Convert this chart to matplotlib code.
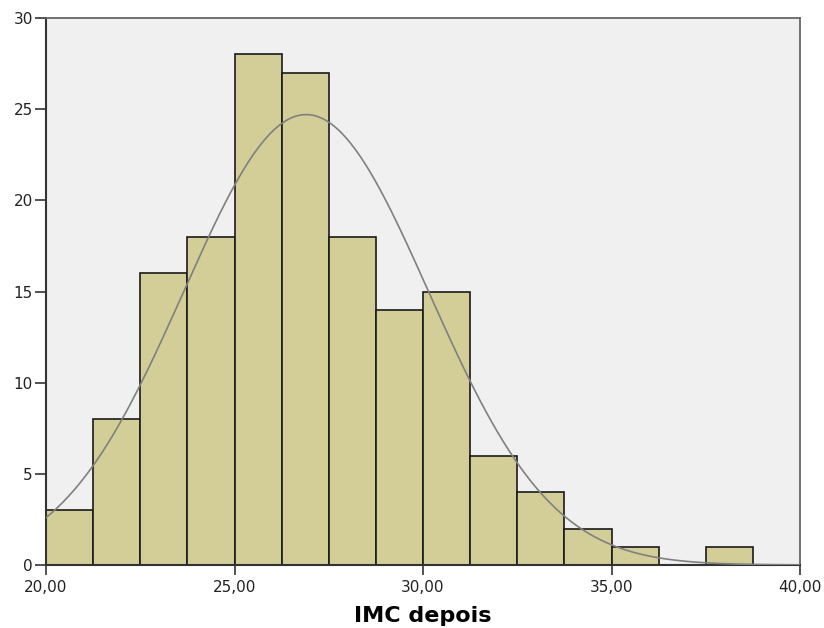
import numpy as np
import matplotlib
matplotlib.use("Agg")
import matplotlib.pyplot as plt

# histogram bins (IMC depois), width 1.25 starting at 20
bin_edges = [20.0, 21.25, 22.5, 23.75, 25.0, 26.25, 27.5, 28.75, 30.0,
             31.25, 32.5, 33.75, 35.0, 36.25, 37.5, 38.75]
counts = [3, 8, 16, 18, 28, 27, 18, 14, 15, 6, 4, 2, 1, 0, 1]

# normal curve parameters
mean_imc = 26.9
sd_imc = 3.25

x_ticks = [20, 25, 30, 35, 40]
x_labels = ["20,00", "25,00", "30,00", "35,00", "40,00"]
y_ticks = [0, 5, 10, 15, 20, 25, 30]

plt.rcParams['font.family'] = ['DejaVu Sans']

fig = plt.figure(figsize=(8.24, 6.28), dpi=100)
ax = fig.add_axes([46 / 824, 1 - 565 / 628, 754 / 824, 547 / 628])
ax.set_facecolor("#F0F0F0")

lefts = np.array(bin_edges[:-1])
widths = np.diff(bin_edges)
mask = np.array(counts) > 0
ax.bar(lefts[mask], np.array(counts)[mask], width=widths[mask], align="edge",
       color="#D3CE97", edgecolor="#1a1a1a", linewidth=1.2, zorder=2)

# fitted normal curve scaled to counts
n = sum(counts)
bw = bin_edges[1] - bin_edges[0]
xs = np.linspace(20, 40, 400)
ys = n * bw / (sd_imc * np.sqrt(2 * np.pi)) * np.exp(-0.5 * ((xs - mean_imc) / sd_imc) ** 2)
ax.plot(xs, ys, color="#808080", linewidth=1.2, zorder=3)

ax.set_xlim(20, 40)
ax.set_ylim(0, 30)
ax.set_xticks(x_ticks)
ax.set_xticklabels(x_labels)
ax.set_yticks(y_ticks)
ax.tick_params(axis="y", direction="out", length=8, width=1.2, color="#333333",
               labelsize=11, labelcolor="#222222", pad=1.5)
ax.tick_params(axis="x", direction="out", length=7, width=1.2, color="#333333",
               labelsize=11, labelcolor="#222222", pad=4)

for side in ["left", "bottom"]:
    ax.spines[side].set_color("#333333")
    ax.spines[side].set_linewidth(1.5)
for side in ["top", "right"]:
    ax.spines[side].set_color("#666666")
    ax.spines[side].set_linewidth(1.3)

ax.set_xlabel("IMC depois", fontsize=16, fontweight="bold", labelpad=8)

plt.savefig("out.png", dpi=100)
